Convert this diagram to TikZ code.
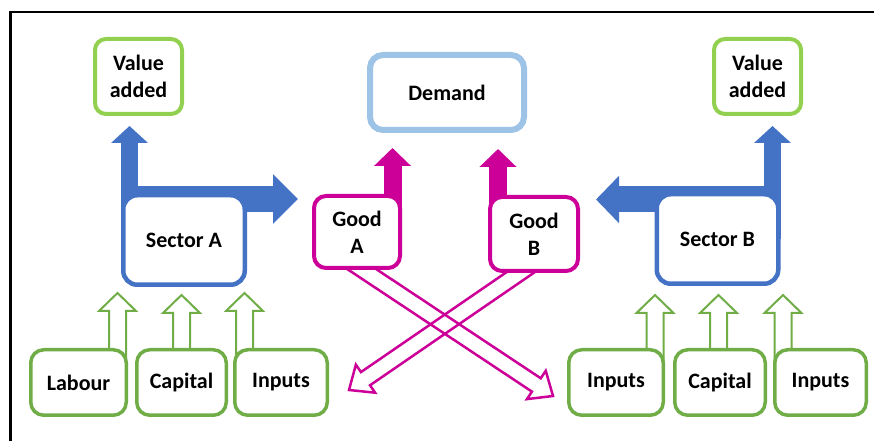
\documentclass[tikz,border=0pt]{standalone}
\usepackage{fontspec}
\setmainfont{Carlito}
\usepackage{tikz}
\usetikzlibrary{arrows.meta,calc,backgrounds}

\definecolor{secblue}{HTML}{4472C4}
\definecolor{demblue}{HTML}{9DC3E6}
\definecolor{vagreen}{HTML}{92D050}
\definecolor{fgreen}{HTML}{70AD47}
\definecolor{goodpink}{HTML}{CC0099}

% outline block arrow: [style]{start}{tip}{half shaft}{half head}{head length}
\newcommand\hollowarrow[6][]{%
	\coordinate (hb) at ($(#3)!#6!(#2)$);
	\draw[#1] ($(#2)!#4!90:(#3)$) -- ($(hb)!#4!90:(#3)$) -- ($(hb)!#5!90:(#3)$) -- (#3)
	-- ($(hb)!#5!-90:(#3)$) -- ($(hb)!#4!-90:(#3)$) -- ($(#2)!#4!-90:(#3)$) -- cycle;
}

\begin{document}
\begin{tikzpicture}[x=1pt,y=1pt,
	box/.style={draw,fill=white,text=black,align=center,inner sep=0pt,
		font=\bfseries\fontsize{22}{27}\selectfont},
	vabox/.style={box,draw=vagreen,line width=4pt,rounded corners=11pt,minimum width=87pt,minimum height=75pt},
	demandbox/.style={box,draw=demblue,line width=6pt,rounded corners=13pt,minimum width=154pt,minimum height=75pt},
	sectorbox/.style={box,draw=secblue,line width=4.5pt,rounded corners=14pt,minimum width=121.5pt,minimum height=89.5pt},
	goodbox/.style={box,draw=goodpink,line width=4pt,rounded corners=12pt,minimum width=86pt,minimum height=72pt},
	factorbox/.style={box,draw=fgreen,line width=3.5pt,rounded corners=13pt,minimum height=65.5pt},
	bluearrow/.style={secblue,line width=#1},
	pinkarrow/.style={goodpink,line width=18pt,-{Triangle[length=18pt,width=36pt]}},
	greenhollow/.style={fgreen,line width=2pt,fill=white,line join=miter},
	pinkhollow/.style={goodpink,line width=2.5pt,line join=miter}
	]
	\useasboundingbox (0,0) rectangle (874,441);
	\draw[line width=2.5pt] (10.5,0) -- (10.5,429) -- (874,429);

	\node[vabox] (vaA) at (138.5,364.5) {Value\\added};
	\node[demandbox] (demand) at (447,348.5) {Demand};
	\node[vabox] (vaB) at (757.5,364.5) {Value\\added};
	\node[sectorbox] (secA) at (184,201) {Sector A};
	\node[sectorbox] (secB) at (717.5,202) {Sector B};
	\node[goodbox] (goodA) at (357,209) {Good\\A};
	\node[goodbox,minimum width=88pt,minimum height=74pt] (goodB) at (534,207) {Good\\B};

	\node[factorbox,minimum width=95.5pt] (labA) at (78.5,58.5) {Labour};
	\node[factorbox,minimum width=89.5pt] (capA) at (181.5,58.5) {Capital};
	\node[factorbox,minimum width=92.5pt] (inpA) at (281,58.5) {Inputs};
	\node[factorbox,minimum width=94.5pt] (inpB) at (616,58.5) {Inputs};
	\node[factorbox,minimum width=90.5pt] (capB) at (720,58.5) {Capital};
	\node[factorbox,minimum width=91.5pt] (othB) at (820.5,58.5) {Inputs};

	% arrow ends
	\coordinate (upA) at (129.5,315);
	\coordinate (outA) at (298,242);
	\coordinate (upB) at (772.5,315);
	\coordinate (outB) at (596,241.5);
	\coordinate (dA) at (392.5,293);
	\coordinate (dB) at (498,292);
	\coordinate (tA1) at (117.5,148);
	\coordinate (tA2) at (181.5,146);
	\coordinate (tA3) at (244.5,148);
	\coordinate (tB1) at (655,146);
	\coordinate (tB2) at (718.5,146);
	\coordinate (tB3) at (783,146);
	\coordinate (sGA) at ($(goodA.south)+(-9,10)$);
	\coordinate (eGA) at (553,45);
	\coordinate (sGB) at ($(goodB.south)+(0,10)$);
	\coordinate (eGB) at (349,51);

	\begin{scope}[on background layer]
		\draw[bluearrow=17pt,-{Triangle[length=17pt,width=36pt]}] (secA.center -| upA) -- (upA);
		\draw[bluearrow=26pt,-{Triangle[length=25pt,width=48pt]}] (secA.west |- outA) -- (outA);
		\draw[bluearrow=17pt,-{Triangle[length=17pt,width=36pt]}] (secB.center -| upB) -- (upB);
		\draw[bluearrow=26pt,-{Triangle[length=23pt,width=46pt]}] (secB.east |- outB) -- (outB);
		\draw[pinkarrow] (goodA.center -| dA) -- (dA);
		\draw[pinkarrow] (goodB.center -| dB) -- (dB);
		\hollowarrow[greenhollow]{labA.center -| tA1}{tA1}{8.5pt}{18.5pt}{18pt}
		\hollowarrow[greenhollow]{capA.center -| tA2}{tA2}{8.5pt}{18.5pt}{18pt}
		\hollowarrow[greenhollow]{inpA.center -| tA3}{tA3}{8.5pt}{18.5pt}{18pt}
		\hollowarrow[greenhollow]{inpB.center -| tB1}{tB1}{8.5pt}{18.5pt}{18pt}
		\hollowarrow[greenhollow]{capB.center -| tB2}{tB2}{8.5pt}{18.5pt}{18pt}
		\hollowarrow[greenhollow]{othB.center -| tB3}{tB3}{8.5pt}{18.5pt}{18pt}
		\hollowarrow[pinkhollow]{sGA}{eGA}{8pt}{17pt}{20pt}
		\hollowarrow[pinkhollow]{sGB}{eGB}{8pt}{17pt}{20pt}
	\end{scope}
\end{tikzpicture}
\end{document}
